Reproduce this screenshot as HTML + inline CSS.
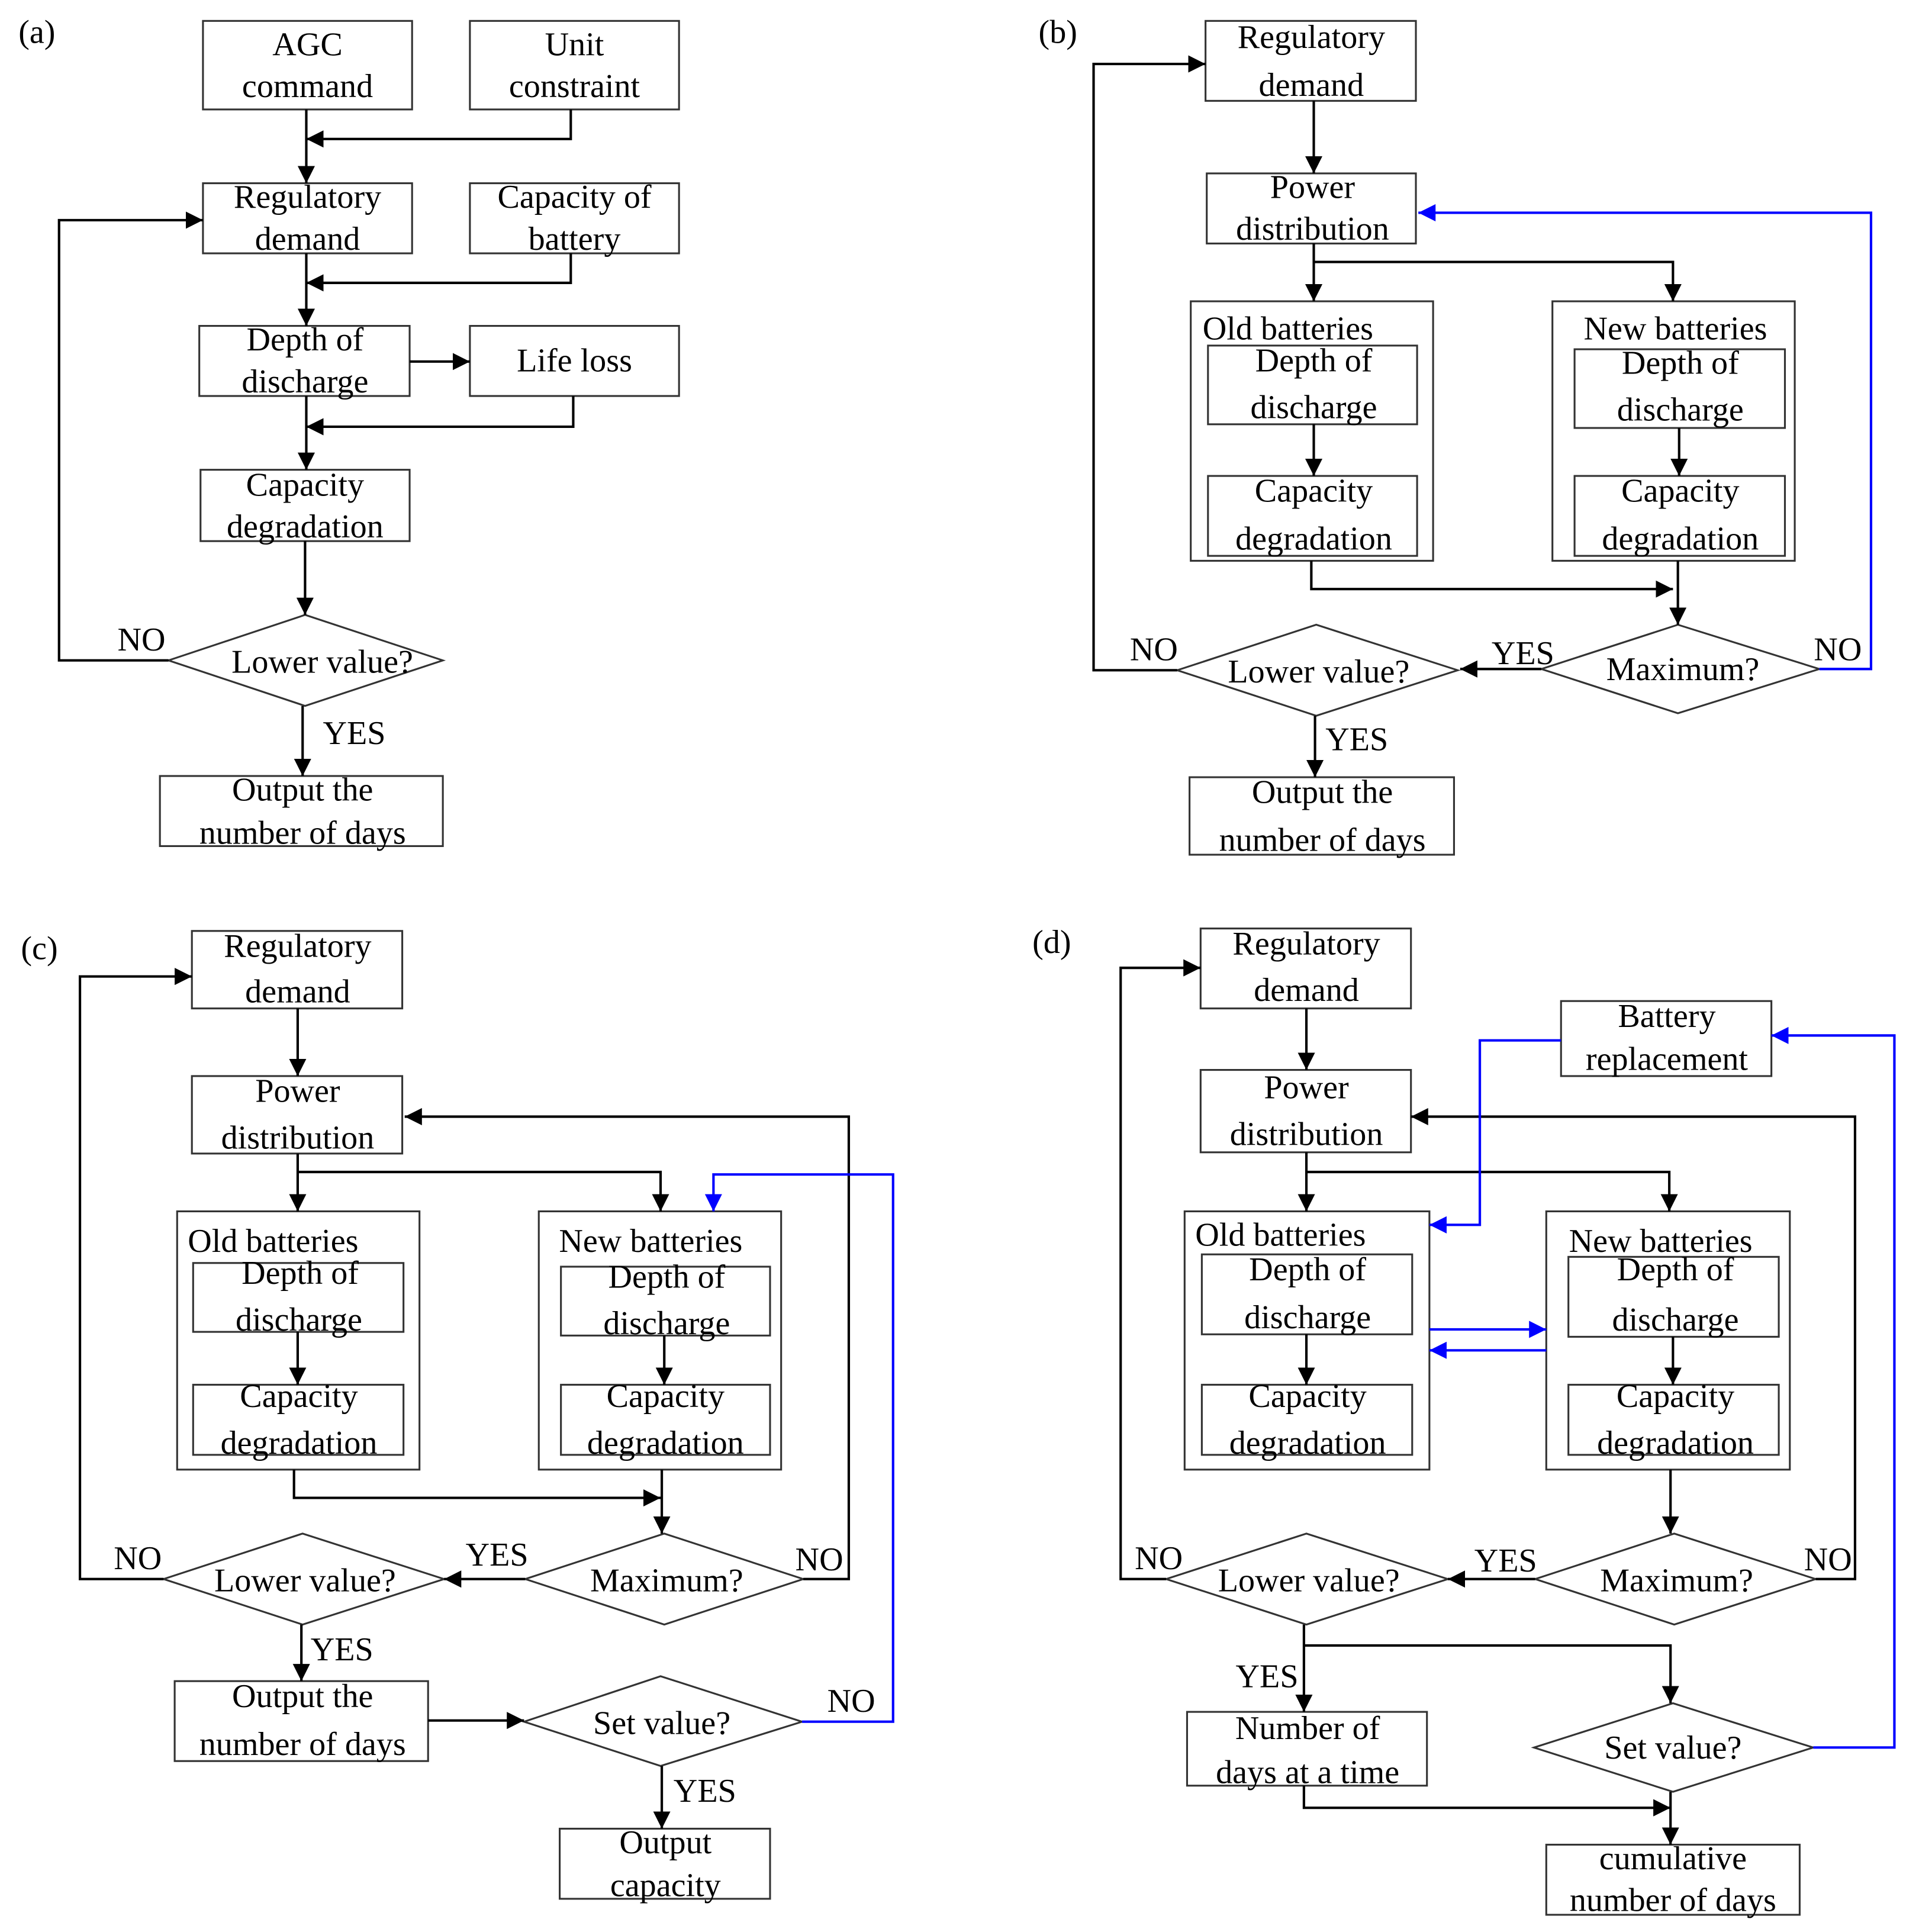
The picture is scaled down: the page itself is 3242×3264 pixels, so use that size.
<!DOCTYPE html>
<html><head><meta charset="utf-8"><style>html,body{margin:0;padding:0;background:#fff}svg{display:block}</style></head><body>
<svg width="3242" height="3264" viewBox="0 0 1560 1571" preserveAspectRatio="none" xmlns="http://www.w3.org/2000/svg" font-family="Liberation Serif, serif" font-size="27" text-anchor="middle">
<defs>
<marker id="ab" viewBox="0 0 10 10" refX="10" refY="5" markerWidth="14" markerHeight="14" markerUnits="userSpaceOnUse" orient="auto"><path d="M0,0L10,5L0,10z" fill="#000"/></marker>
<marker id="au" viewBox="0 0 10 10" refX="10" refY="5" markerWidth="14" markerHeight="14" markerUnits="userSpaceOnUse" orient="auto"><path d="M0,0L10,5L0,10z" fill="#00f"/></marker>
</defs>
<g fill="none" stroke="#333" stroke-width="1.5">
<!-- (a) -->
<rect x="165" y="17" width="170" height="72"/><rect x="382" y="17" width="170" height="72"/>
<rect x="165" y="149" width="170" height="57"/><rect x="382" y="149" width="170" height="57"/>
<rect x="162" y="265" width="171" height="57"/><rect x="382" y="265" width="170" height="57"/>
<rect x="163" y="382" width="170" height="58"/><rect x="130" y="631" width="230" height="57"/>
<path d="M137,537L248,500L360,537L248,574Z"/>
<!-- (b) -->
<rect x="980" y="17" width="171" height="65"/><rect x="981" y="141" width="170" height="57"/>
<rect x="968" y="245" width="197" height="211"/><rect x="982" y="281" width="170" height="64"/><rect x="982" y="387" width="170" height="65"/>
<rect x="1262" y="245" width="197" height="211"/><rect x="1280" y="284" width="171" height="64"/><rect x="1280" y="387" width="171" height="65"/>
<path d="M1253,544L1364,508L1479,544L1364,580Z"/><path d="M957,545L1070,508L1185,545L1070,582Z"/>
<rect x="967" y="632" width="215" height="63"/>
<!-- (c) -->
<rect x="156" y="757" width="171" height="63"/><rect x="156" y="875" width="171" height="63"/>
<rect x="144" y="985" width="197" height="210"/><rect x="157" y="1027" width="171" height="56"/><rect x="157" y="1126" width="171" height="57"/>
<rect x="438" y="985" width="197" height="210"/><rect x="456" y="1030" width="170" height="56"/><rect x="456" y="1126" width="170" height="57"/>
<path d="M427,1284L540,1247L653,1284L540,1321Z"/><path d="M133,1284L246,1247L361,1284L246,1321Z"/>
<rect x="142" y="1367" width="206" height="65"/><path d="M426,1400L537,1363L652,1400L537,1436Z"/>
<rect x="455" y="1487" width="171" height="57"/>
<!-- (d) -->
<rect x="976" y="755" width="171" height="65"/><rect x="976" y="870" width="171" height="67"/>
<rect x="1269" y="814" width="171" height="61"/>
<rect x="963" y="985" width="199" height="210"/><rect x="977" y="1020" width="171" height="65"/><rect x="977" y="1126" width="171" height="57"/>
<rect x="1257" y="985" width="198" height="210"/><rect x="1275" y="1022" width="171" height="65"/><rect x="1275" y="1126" width="171" height="57"/>
<path d="M1248,1284L1361,1247L1476,1284L1361,1321Z"/><path d="M948,1284L1062,1247L1177,1284L1062,1321Z"/>
<rect x="965" y="1392" width="195" height="60"/><path d="M1247,1421L1360,1385L1474,1421L1360,1457Z"/>
<rect x="1257" y="1500" width="206" height="57"/>
</g>
<g fill="none" stroke="#000" stroke-width="2">
<!-- (a) -->
<path d="M249,89V149" marker-end="url(#ab)"/><path d="M464,89V113H249" marker-end="url(#ab)"/>
<path d="M249,206V265" marker-end="url(#ab)"/><path d="M464,206V230H249" marker-end="url(#ab)"/>
<path d="M333,294H382" marker-end="url(#ab)"/>
<path d="M249,322V382" marker-end="url(#ab)"/><path d="M466,322V347H249" marker-end="url(#ab)"/>
<path d="M248,440V500" marker-end="url(#ab)"/>
<path d="M137,537H48V179H165" marker-end="url(#ab)"/>
<path d="M246,574V631" marker-end="url(#ab)"/>
<!-- (b) -->
<path d="M1068,82V141" marker-end="url(#ab)"/>
<path d="M1068,198V245" marker-end="url(#ab)"/><path d="M1068,213H1360V245" marker-end="url(#ab)"/>
<path d="M1068,345V387" marker-end="url(#ab)"/><path d="M1365,348V387" marker-end="url(#ab)"/>
<path d="M1066,456V479H1360" marker-end="url(#ab)"/><path d="M1364,456V508" marker-end="url(#ab)"/>
<path d="M1253,544H1187" marker-end="url(#ab)"/>
<path d="M957,545H889V52H980" marker-end="url(#ab)"/>
<path d="M1069,582V632" marker-end="url(#ab)"/>
<!-- (c) -->
<path d="M242,820V875" marker-end="url(#ab)"/>
<path d="M242,938V985" marker-end="url(#ab)"/><path d="M242,953H537V985" marker-end="url(#ab)"/>
<path d="M242,1083V1126" marker-end="url(#ab)"/><path d="M540,1086V1126" marker-end="url(#ab)"/>
<path d="M239,1195V1218H537" marker-end="url(#ab)"/><path d="M538,1195V1247" marker-end="url(#ab)"/>
<path d="M653,1284H690V908H329" marker-end="url(#ab)"/>
<path d="M427,1284H361" marker-end="url(#ab)"/>
<path d="M133,1284H65V794H156" marker-end="url(#ab)"/>
<path d="M245,1321V1367" marker-end="url(#ab)"/>
<path d="M348,1399H426" marker-end="url(#ab)"/>
<path d="M538,1436V1487" marker-end="url(#ab)"/>
<!-- (d) -->
<path d="M1062,820V870" marker-end="url(#ab)"/>
<path d="M1062,937V985" marker-end="url(#ab)"/><path d="M1062,953H1357V985" marker-end="url(#ab)"/>
<path d="M1062,1085V1126" marker-end="url(#ab)"/><path d="M1360,1087V1126" marker-end="url(#ab)"/>
<path d="M1358,1195V1247" marker-end="url(#ab)"/>
<path d="M1476,1284H1508V908H1147" marker-end="url(#ab)"/>
<path d="M1248,1284H1177" marker-end="url(#ab)"/>
<path d="M948,1284H911V787H976" marker-end="url(#ab)"/>
<path d="M1060,1321V1392" marker-end="url(#ab)"/><path d="M1060,1338H1358V1385" marker-end="url(#ab)"/>
<path d="M1060,1452V1470H1358" marker-end="url(#ab)"/><path d="M1358,1457V1500" marker-end="url(#ab)"/>
</g>
<g fill="none" stroke="#00f" stroke-width="2">
<path d="M1479,544H1521V173H1153" marker-end="url(#au)"/>
<path d="M652,1400H726V955H580V985" marker-end="url(#au)"/>
<path d="M1269,846H1203V996H1162" marker-end="url(#au)"/>
<path d="M1162,1081H1257" marker-end="url(#au)"/><path d="M1257,1098H1162" marker-end="url(#au)"/>
<path d="M1474,1421H1540V842H1440" marker-end="url(#au)"/>
</g>
<g fill="#000" stroke="none">
<text x="30" y="35">(a)</text><text x="860" y="35">(b)</text><text x="32" y="780">(c)</text><text x="855" y="775">(d)</text>
<!-- a -->
<text x="250" y="45">AGC</text><text x="250" y="79">command</text>
<text x="467" y="45">Unit</text><text x="467" y="79">constraint</text>
<text x="250" y="169">Regulatory</text><text x="250" y="203">demand</text>
<text x="467" y="169">Capacity of</text><text x="467" y="203">battery</text>
<text x="248" y="285">Depth of</text><text x="248" y="319">discharge</text>
<text x="467" y="302">Life loss</text>
<text x="248" y="403">Capacity</text><text x="248" y="437">degradation</text>
<text x="262" y="547">Lower  value?</text>
<text x="115" y="529">NO</text><text x="288" y="605">YES</text>
<text x="246" y="651">Output the</text><text x="246" y="686">number of days</text>
<!-- b -->
<text x="1066" y="39">Regulatory</text><text x="1066" y="78">demand</text>
<text x="1067" y="161">Power</text><text x="1067" y="195">distribution</text>
<text x="1047" y="276">Old batteries</text><text x="1068" y="302">Depth of</text><text x="1068" y="340">discharge</text>
<text x="1068" y="408">Capacity</text><text x="1068" y="447">degradation</text>
<text x="1362" y="276">New batteries</text><text x="1366" y="304">Depth of</text><text x="1366" y="342">discharge</text>
<text x="1366" y="408">Capacity</text><text x="1366" y="447">degradation</text>
<text x="1368" y="553">Maximum?</text><text x="1072" y="555">Lower  value?</text>
<text x="938" y="537">NO</text><text x="1238" y="540">YES</text><text x="1494" y="537">NO</text><text x="1103" y="610">YES</text>
<text x="1075" y="653">Output the</text><text x="1075" y="692">number of days</text>
<!-- c -->
<text x="242" y="778">Regulatory</text><text x="242" y="815">demand</text>
<text x="242" y="896">Power</text><text x="242" y="934">distribution</text>
<text x="222" y="1018">Old batteries</text><text x="244" y="1044">Depth of</text><text x="243" y="1082">discharge</text>
<text x="243" y="1144">Capacity</text><text x="243" y="1182">degradation</text>
<text x="529" y="1018">New batteries</text><text x="542" y="1047">Depth of</text><text x="542" y="1085">discharge</text>
<text x="541" y="1144">Capacity</text><text x="541" y="1182">degradation</text>
<text x="542" y="1294">Maximum?</text><text x="248" y="1294">Lower  value?</text>
<text x="112" y="1276">NO</text><text x="404" y="1273">YES</text><text x="666" y="1277">NO</text><text x="278" y="1350">YES</text>
<text x="246" y="1388">Output the</text><text x="246" y="1427">number of days</text>
<text x="538" y="1410">Set value?</text><text x="692" y="1392">NO</text><text x="573" y="1465">YES</text>
<text x="541" y="1507">Output</text><text x="541" y="1542">capacity</text>
<!-- d -->
<text x="1062" y="776">Regulatory</text><text x="1062" y="814">demand</text>
<text x="1062" y="893">Power</text><text x="1062" y="931">distribution</text>
<text x="1355" y="835">Battery</text><text x="1355" y="870">replacement</text>
<text x="1041" y="1013">Old batteries</text><text x="1063" y="1041">Depth of</text><text x="1063" y="1080">discharge</text>
<text x="1063" y="1144">Capacity</text><text x="1063" y="1182">degradation</text>
<text x="1350" y="1018">New batteries</text><text x="1362" y="1041">Depth of</text><text x="1362" y="1082">discharge</text>
<text x="1362" y="1144">Capacity</text><text x="1362" y="1182">degradation</text>
<text x="1363" y="1294">Maximum?</text><text x="1064" y="1294">Lower  value?</text>
<text x="942" y="1276">NO</text><text x="1224" y="1278">YES</text><text x="1486" y="1277">NO</text><text x="1030" y="1372">YES</text>
<text x="1063" y="1414">Number of</text><text x="1063" y="1450">days at a time</text>
<text x="1360" y="1430">Set value?</text>
<text x="1360" y="1520">cumulative</text><text x="1360" y="1554">number of days</text>
</g>
</svg>
</body></html>
